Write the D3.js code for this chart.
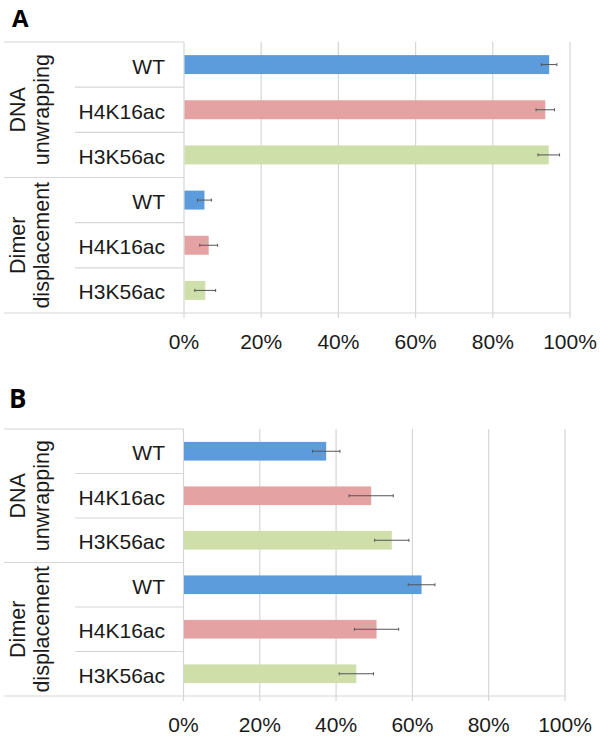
<!DOCTYPE html>
<html>
<head>
<meta charset="utf-8">
<script src="https://cdn.jsdelivr.net/npm/d3@7"></script>
<style>
  html, body { margin: 0; padding: 0; background: #ffffff; }
  svg { display: block; }
</style>
</head>
<body>
<svg id="chart" width="600" height="736"></svg>
<script>
// ---- data ----
const groups = ["DNA unwrapping", "Dimer displacement"];
const groupLines = [["DNA", "unwrapping"], ["Dimer", "displacement"]];
const categories = ["WT", "H4K16ac", "H3K56ac"];
const colors = ["#5d9cdc", "#e4a3a2", "#cfdfa9"];
const tickValues = [0, 0.2, 0.4, 0.6, 0.8, 1.0];
const tickLabels = ["0%", "20%", "40%", "60%", "80%", "100%"];

// Panel A: [DNA unwrapping WT, H4K16ac, H3K56ac, Dimer displacement WT, H4K16ac, H3K56ac]
const panelAValues = [0.946, 0.936, 0.945, 0.053, 0.064, 0.055];
const panelAErrors = [0.020, 0.024, 0.028, 0.018, 0.023, 0.027];
// Panel B
const panelBValues = [0.374, 0.492, 0.546, 0.624, 0.506, 0.453];
const panelBErrors = [0.036, 0.058, 0.045, 0.035, 0.058, 0.045];

const panels = [
  { letter: "A", values: panelAValues, errors: panelAErrors,
    top: 42, bottom: 313, x0: 184, x1: 570, tickBase: 349,
    letterX: 12, letterY: 27, letterSize: 24 },
  { letter: "B", values: panelBValues, errors: panelBErrors,
    top: 429, bottom: 696, x0: 183.5, x1: 565, tickBase: 732,
    letterX: 9, letterY: 408, letterSize: 26 }
];

const svg = d3.select("#chart");
const textColor = "#1a1a1a";
const gridColor = "#d6d6d6";
const font = "Liberation Sans, Arial, sans-serif";

panels.forEach(p => {
  const g = svg.append("g");
  const rows = [];
  groups.forEach((grp, gi) => categories.forEach((c, ci) => rows.push({ gi, ci, key: gi + "-" + c })));
  rows.forEach((r, i) => { r.value = p.values[i]; r.error = p.errors[i]; });

  const x = d3.scaleLinear().domain([0, 1]).range([p.x0, p.x1]);
  const y = d3.scaleBand().domain(rows.map(r => r.key)).range([p.top, p.bottom]).paddingInner(0).paddingOuter(0);
  const rowH = y.bandwidth();
  const barH = rowH * 0.42;

  // panel letter
  g.append("text").attr("x", p.letterX).attr("y", p.letterY)
    .attr("font-family", "Open Sans, Liberation Sans, Arial, sans-serif")
    .attr("font-weight", "bold").attr("font-size", p.letterSize)
    .attr("fill", "#000").text(p.letter);

  // vertical gridlines with ticks
  g.selectAll(".grid").data(tickValues.slice(1)).enter().append("line")
    .attr("x1", d => x(d)).attr("x2", d => x(d))
    .attr("y1", p.top).attr("y2", p.bottom + 5)
    .attr("stroke", gridColor).attr("stroke-width", 1.2);

  // table top border
  g.append("line").attr("x1", 4).attr("x2", p.x0).attr("y1", p.top).attr("y2", p.top)
    .attr("stroke", gridColor).attr("stroke-width", 1.2);
  // bottom line
  g.append("line").attr("x1", 4).attr("x2", p.x1).attr("y1", p.bottom).attr("y2", p.bottom)
    .attr("stroke", gridColor).attr("stroke-width", 1.2);
  // row separators
  rows.forEach((r, i) => {
    if (i === 0) return;
    const yy = y(r.key);
    const groupStart = r.ci === 0;
    g.append("line").attr("x1", groupStart ? 4 : 75).attr("x2", p.x0)
      .attr("y1", yy).attr("y2", yy)
      .attr("stroke", gridColor).attr("stroke-width", 1.2);
  });
  // axis vertical line at 0
  g.append("line").attr("x1", x(0)).attr("x2", x(0)).attr("y1", p.top).attr("y2", p.bottom + 5)
    .attr("stroke", gridColor).attr("stroke-width", 1.2);

  // bars
  g.selectAll(".bar").data(rows).enter().append("rect")
    .attr("x", x(0) + 0.5)
    .attr("y", d => y(d.key) + (rowH - barH) / 2)
    .attr("width", d => x(d.value) - x(0) - 0.5)
    .attr("height", barH)
    .attr("fill", d => colors[d.ci]);

  // error bars
  const eb = g.selectAll(".err").data(rows).enter().append("g");
  eb.append("line")
    .attr("x1", d => x(d.value - d.error)).attr("x2", d => x(d.value + d.error))
    .attr("y1", d => y(d.key) + rowH / 2).attr("y2", d => y(d.key) + rowH / 2)
    .attr("stroke", "#555").attr("stroke-width", 1);
  [-1, 1].forEach(s => {
    eb.append("line")
      .attr("x1", d => x(d.value + s * d.error)).attr("x2", d => x(d.value + s * d.error))
      .attr("y1", d => y(d.key) + rowH / 2 - 1.5).attr("y2", d => y(d.key) + rowH / 2 + 1.5)
      .attr("stroke", "#555").attr("stroke-width", 1);
  });

  // category labels
  g.selectAll(".cat").data(rows).enter().append("text")
    .attr("x", 165).attr("y", d => y(d.key) + rowH / 2 + 9)
    .attr("text-anchor", "end").attr("font-family", font).attr("font-size", 21)
    .attr("fill", textColor).text(d => categories[d.ci]);

  // group labels (rotated)
  groups.forEach((grp, gi) => {
    const yc = (y(gi + "-" + categories[0]) + y(gi + "-" + categories[2]) + rowH) / 2;
    const lines = groupLines[gi];
    const baselines = [25, 49];
    lines.forEach((ln, li) => {
      g.append("text")
        .attr("transform", `translate(${baselines[li]},${yc}) rotate(-90)`)
        .attr("text-anchor", "middle").attr("font-family", font).attr("font-size", 21.5)
        .attr("fill", textColor).text(ln);
    });
  });

  // tick labels
  g.selectAll(".tick").data(tickValues).enter().append("text")
    .attr("x", d => x(d)).attr("y", p.tickBase)
    .attr("text-anchor", "middle").attr("font-family", font).attr("font-size", 21)
    .attr("fill", textColor).text((d, i) => tickLabels[i]);
});
</script>
</body>
</html>
